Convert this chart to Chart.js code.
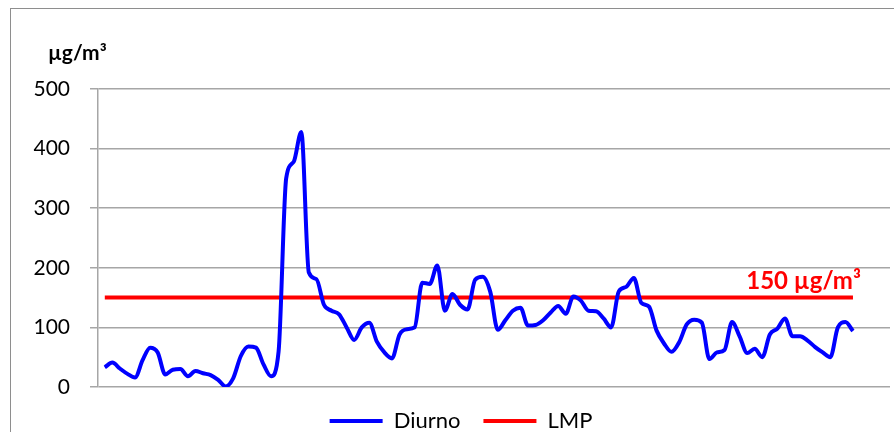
<!DOCTYPE html>
<html>
<head>
<meta charset="utf-8">
<script src="https://cdn.jsdelivr.net/npm/chart.js@4.4.1/dist/chart.umd.min.js"></script>
<style>
  html, body { margin: 0; padding: 0; background: #fff; }
  #wrap { position: relative; width: 894px; height: 432px; overflow: hidden; }
  #frame { position: absolute; left: 10px; top: 8px; width: 900px; height: 440px; border: 1px solid #8e8e8e; box-sizing: border-box; }
  canvas { position: absolute; left: 0; top: 0; }
</style>
</head>
<body>
<div id="wrap">
  <div id="frame"></div>
  <canvas id="c" width="894" height="432"></canvas>
</div>
<script>
// Daily PM concentration (µg/m³), daytime sampling
const diurno = [
  33, 41, 31, 22, 16, 45, 66, 58, 21, 29,
  30, 18, 27, 23, 20, 12, 1, 15, 52, 68,
  66, 38, 18, 60, 350, 378, 428, 192, 181, 138,
  128, 122, 100, 79, 100, 108, 76, 58, 48, 88,
  97, 100, 175, 173, 204, 128, 156, 138, 130, 180,
  185, 160, 96, 112, 128, 133, 103, 104, 112, 125,
  136, 123, 152, 145, 128, 127, 115, 100, 160, 168,
  183, 141, 135, 95, 73, 59, 75, 105, 113, 108,
  47, 58, 62, 109, 85, 57, 64, 50, 88, 98,
  115, 85, 85, 78, 67, 58, 50, 100, 109, 94
];
// Maximum permissible limit
const lmpValue = 150;
const lmp = diurno.map(() => lmpValue);

const yTicks = [0, 100, 200, 300, 400, 500];
const unitLabel = 'µg/m³';
const limitLabel = '150 µg/m³';

const toXY = arr => arr.map((v, i) => ({ x: i, y: v }));

const annotations = {
  id: 'annotations',
  afterDraw(chart) {
    const { ctx, scales } = chart;
    const y = scales.y, x = scales.x;
    ctx.save();
    // unit caption above the value axis
    ctx.font = 'bold 21px Lato';
    ctx.fillStyle = '#000';
    ctx.textAlign = 'left';
    ctx.textBaseline = 'middle';
    ctx.fillText(unitLabel, 48, 53);
    // limit caption
    ctx.font = 'bold 24px Lato';
    ctx.fillStyle = '#ff0000';
    ctx.textAlign = 'right';
    ctx.textBaseline = 'alphabetic';
    ctx.fillText(limitLabel, x.getPixelForValue(diurno.length - 1) + 8, y.getPixelForValue(lmpValue) - 9);
    ctx.restore();
  }
};

new Chart(document.getElementById('c'), {
  type: 'line',
  data: {
    datasets: [
      {
        label: 'Diurno',
        data: toXY(diurno),
        borderColor: '#0000ff',
        backgroundColor: '#0000ff',
        borderWidth: 4,
        pointRadius: 0,
        tension: 0.4,
        cubicInterpolationMode: 'monotone'
      },
      {
        label: 'LMP',
        data: toXY(lmp),
        borderColor: '#ff0000',
        backgroundColor: '#ff0000',
        borderWidth: 4,
        pointRadius: 0
      }
    ]
  },
  options: {
    responsive: false,
    animation: false,
    events: [],
    layout: { padding: { top: 89, right: 4, left: 32, bottom: -10 } },
    scales: {
      x: {
        type: 'linear',
        display: false,
        min: -0.9,
        max: 103.9
      },
      y: {
        min: 0,
        max: 500,
        afterFit(scale) { scale.width = 66; },
        afterBuildTicks(scale) { scale.ticks = yTicks.map(v => ({ value: v })); },
        ticks: {
          padding: 20,
          color: '#000',
          font: { family: 'Lato', size: 21 }
        },
        grid: {
          color: '#a6a6a6',
          lineWidth: 1.5,
          tickLength: 8,
          drawTicks: true
        },
        border: { color: '#a6a6a6', width: 1.5 }
      }
    },
    plugins: {
      legend: {
        position: 'bottom',
        labels: {
          boxWidth: 53,
          boxHeight: 4,
          padding: 23,
          color: '#000',
          font: { family: 'Lato', size: 22 },
          generateLabels(chart) {
            return Chart.defaults.plugins.legend.labels.generateLabels(chart)
              .map(item => Object.assign(item, { lineWidth: 0 }));
          }
        }
      },
      tooltip: { enabled: false }
    }
  },
  plugins: [annotations]
});
</script>
</body>
</html>
